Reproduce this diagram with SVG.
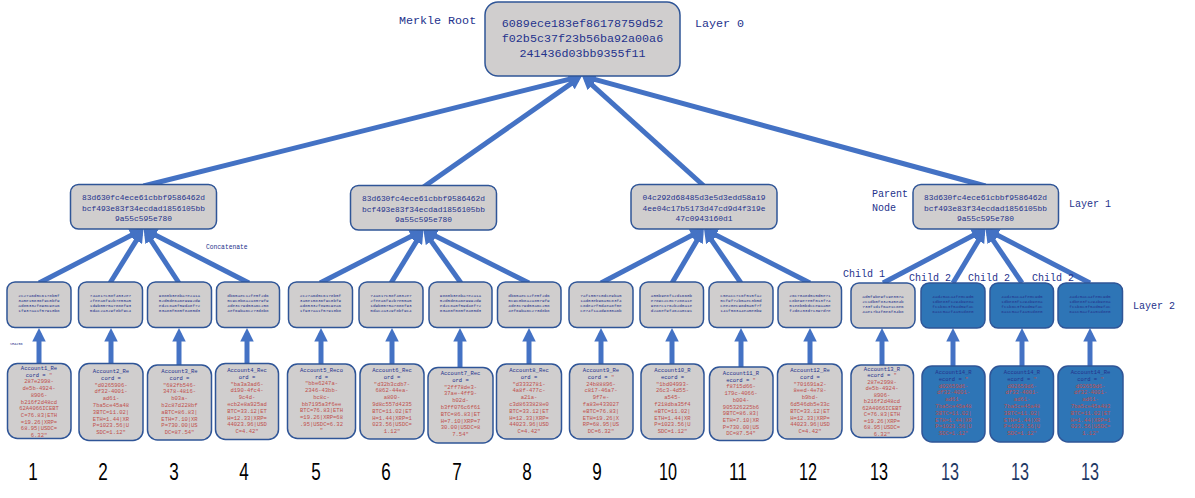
<svg xmlns="http://www.w3.org/2000/svg" width="1195" height="498" viewBox="0 0 1195 498">
<style>
.g{fill:#D0CECE;stroke:#2F5597;stroke-width:1.5}
.b{fill:#2E75B6;stroke:#2F5597;stroke-width:1.5}
.m{font-family:"Liberation Mono","DejaVu Sans Mono",monospace;fill:#24328C}
.root{font-size:11.7px;text-anchor:middle}
.l1{font-size:7.9px;text-anchor:middle}
.l2{font-size:4.3px;text-anchor:middle}
.lf{font-size:5.5px;text-anchor:middle}
.r{fill:#C0504D}
.lab{font-size:10px}
.num{font-family:"Liberation Sans",Arial,sans-serif;font-size:24px;text-anchor:middle;fill:#000}
.nb{fill:#1F3864}
.c{stroke:#4472C4;stroke-width:5;fill:none;marker-end:url(#ah)}
</style>
<defs>
<marker id="ah" viewBox="0 0 10 10" refX="6" refY="5" markerWidth="2.7" markerHeight="2.7" orient="auto" markerUnits="strokeWidth">
<path d="M0,0 L10,5 L0,10 z" fill="#4472C4"/>
</marker>
</defs>

<g id="connectors">
<line class="c" x1="143.5" y1="186" x2="576.7" y2="77.3"/>
<line class="c" x1="423.5" y1="187" x2="577.5" y2="79.1"/>
<line class="c" x1="704" y1="186" x2="586.1" y2="79.7"/>
<line class="c" x1="985.5" y1="186" x2="587.3" y2="77.4"/>

<line class="c" x1="39" y1="283" x2="138.6" y2="231.5"/>
<line class="c" x1="110" y1="283" x2="140.6" y2="233.6"/>
<line class="c" x1="179" y1="283" x2="146.6" y2="233.6"/>
<line class="c" x1="249" y1="283" x2="148.4" y2="231.5"/>

<line class="c" x1="320" y1="283" x2="418.6" y2="232.5"/>
<line class="c" x1="391" y1="283" x2="420.6" y2="234.6"/>
<line class="c" x1="461" y1="283" x2="426.6" y2="234.6"/>
<line class="c" x1="529" y1="283" x2="428.4" y2="232.5"/>

<line class="c" x1="601" y1="283" x2="699.1" y2="231.5"/>
<line class="c" x1="672" y1="283" x2="701.1" y2="233.6"/>
<line class="c" x1="741" y1="283" x2="707.1" y2="233.6"/>
<line class="c" x1="810" y1="283" x2="708.9" y2="231.5"/>

<line class="c" x1="883" y1="283" x2="980.6" y2="231.5"/>
<line class="c" x1="953" y1="283" x2="982.6" y2="233.6"/>
<line class="c" x1="1022" y1="283" x2="988.6" y2="233.6"/>
<line class="c" x1="1090" y1="283" x2="990.4" y2="231.5"/>

<line class="c" x1="39" y1="365" x2="39" y2="333.5"/>
<line class="c" x1="111" y1="365" x2="111" y2="333.5"/>
<line class="c" x1="179" y1="366" x2="179" y2="333.5"/>
<line class="c" x1="247" y1="365" x2="247" y2="333.5"/>
<line class="c" x1="321" y1="365" x2="321" y2="333.5"/>
<line class="c" x1="392" y1="365" x2="392" y2="333.5"/>
<line class="c" x1="460" y1="368" x2="460" y2="333.5"/>
<line class="c" x1="529" y1="365" x2="529" y2="333.5"/>
<line class="c" x1="601" y1="365" x2="601" y2="333.5"/>
<line class="c" x1="672" y1="365" x2="672" y2="333.5"/>
<line class="c" x1="741" y1="368" x2="741" y2="333.5"/>
<line class="c" x1="810" y1="365" x2="810" y2="333.5"/>
<line class="c" x1="882" y1="366" x2="882" y2="333.5"/>
<line class="c" x1="953" y1="366" x2="953" y2="333.5"/>
<line class="c" x1="1022" y1="366" x2="1022" y2="333.5"/>
<line class="c" x1="1090" y1="366" x2="1090" y2="333.5"/>
</g>

<g id="root">
<rect class="g" x="485" y="2" width="195" height="74" rx="13"/>
<text class="m root" x="582.5" y="27">6089ece183ef86178759d52</text>
<text class="m root" x="582.5" y="42">f02b5c37f23b56ba92a00a6</text>
<text class="m root" x="582.5" y="57">241436d03bb9355f11</text>
</g>

<g id="h1-1">
<rect class="g" x="70.5" y="184.5" width="146" height="44.5" rx="8"/>
<text class="m l1" x="143.5" y="200">83d630fc4ece61cbbf9586462d</text>
<text class="m l1" x="143.5" y="210.5">bcf493e83f34ecdad1856105bb</text>
<text class="m l1" x="143.5" y="221">9a55c595e780</text>
</g>
<g id="h1-2">
<rect class="g" x="350.5" y="185.5" width="146" height="44.5" rx="8"/>
<text class="m l1" x="423.5" y="201">83d630fc4ece61cbbf9586462d</text>
<text class="m l1" x="423.5" y="211.5">bcf493e83f34ecdad1856105bb</text>
<text class="m l1" x="423.5" y="222">9a55c595e780</text>
</g>
<g id="h1-3">
<rect class="g" x="631" y="184.5" width="146" height="44.5" rx="8"/>
<text class="m l1" x="704" y="200">04c292d68485d3e5d3edd58a19</text>
<text class="m l1" x="704" y="210.5">4ee04c17b5173d47cd9d4f319e</text>
<text class="m l1" x="704" y="221">47c0943160d1</text>
</g>
<g id="h1-4">
<rect class="g" x="913" y="184.5" width="145.5" height="44.5" rx="8"/>
<text class="m l1" x="985.5" y="200">83d630fc4ece61cbbf9586462d</text>
<text class="m l1" x="985.5" y="210.5">bcf493e83f34ecdad1856105bb</text>
<text class="m l1" x="985.5" y="221">9a55c595e780</text>
</g>

<g id="h2-1"><rect class="g" x="7" y="282" width="64" height="45.5" rx="8"/>
<text class="m l2" x="39" y="297">2c27a6d5c6178b5f</text><text class="m l2" x="39" y="302">3a5e15836f9c0bf9</text><text class="m l2" x="39" y="307">ad85332f890c9ea6</text><text class="m l2" x="39" y="312">1f937aa1f57910b8</text></g>
<g id="h2-2"><rect class="g" x="78.5" y="282" width="64" height="45.5" rx="8"/>
<text class="m l2" x="110.5" y="297">74a817c58f4032e7</text><text class="m l2" x="110.5" y="302">2feea6f92b7e55a5</text><text class="m l2" x="110.5" y="307">1d9b0575a7888f93</text><text class="m l2" x="110.5" y="312">5dac2a329f8bf9c4</text></g>
<g id="h2-3"><rect class="g" x="147.5" y="282" width="64" height="45.5" rx="8"/>
<text class="m l2" x="179.5" y="297">9880b3e8ba7e2a1a</text><text class="m l2" x="179.5" y="302">52d5de6a6e9992d9</text><text class="m l2" x="179.5" y="307">ed2c8a0f59d48f72</text><text class="m l2" x="179.5" y="312">03a80f085f8405d3</text></g>
<g id="h2-4"><rect class="g" x="216.5" y="282" width="63" height="45.5" rx="8"/>
<text class="m l2" x="248" y="297">db65aec12fe5f2d6</text><text class="m l2" x="248" y="302">5c9c0b8a2a8579f9</text><text class="m l2" x="248" y="307">4de3c79d53a6c258</text><text class="m l2" x="248" y="312">4ef69ba6c273d8b8</text></g>
<g id="h2-5"><rect class="g" x="288.5" y="282" width="64" height="45.5" rx="8"/>
<text class="m l2" x="320.5" y="297">2c27a6d5c6178b5f</text><text class="m l2" x="320.5" y="302">3a5e15836f9c0bf9</text><text class="m l2" x="320.5" y="307">ad85332f890c9ea6</text><text class="m l2" x="320.5" y="312">1f937aa1f57910b8</text></g>
<g id="h2-6"><rect class="g" x="359" y="282" width="64" height="45.5" rx="8"/>
<text class="m l2" x="391" y="297">74a817c58f4032e7</text><text class="m l2" x="391" y="302">2feea6f92b7e55a5</text><text class="m l2" x="391" y="307">1d9b0575a7888f93</text><text class="m l2" x="391" y="312">5dac2a329f8bf9c4</text></g>
<g id="h2-7"><rect class="g" x="429" y="282" width="63" height="45.5" rx="8"/>
<text class="m l2" x="460.5" y="297">9880b3e8ba7e2a1a</text><text class="m l2" x="460.5" y="302">52d5de6a6e9992d9</text><text class="m l2" x="460.5" y="307">ed2c8a0f59d48f72</text><text class="m l2" x="460.5" y="312">03a80f085f8405d3</text></g>
<g id="h2-8"><rect class="g" x="497.5" y="282" width="63.5" height="45.5" rx="8"/>
<text class="m l2" x="529" y="297">db65aec12fe5f2d6</text><text class="m l2" x="529" y="302">5c9c0b8a2a8579f9</text><text class="m l2" x="529" y="307">4de3c79d53a6c258</text><text class="m l2" x="529" y="312">4ef69ba6c273d8b8</text></g>
<g id="h2-9"><rect class="g" x="569" y="282" width="64" height="45.5" rx="8"/>
<text class="m l2" x="601" y="297">7af1557c0dce9ba5</text><text class="m l2" x="601" y="302">1ad03eb96a5c83f4</text><text class="m l2" x="601" y="307">c8dea7f5d4ea8f0e</text><text class="m l2" x="601" y="312">ce74f1a4d9830a6b</text></g>
<g id="h2-10"><rect class="g" x="640" y="282" width="63.5" height="45.5" rx="8"/>
<text class="m l2" x="671.5" y="297">a55b9e8f12d1660b</text><text class="m l2" x="671.5" y="302">e789c2c0c7288a1e</text><text class="m l2" x="671.5" y="307">9e87c1762b2d0a1e</text><text class="m l2" x="671.5" y="312">d2a6ef9f462a0c91</text></g>
<g id="h2-11"><rect class="g" x="709" y="282" width="64" height="45.5" rx="8"/>
<text class="m l2" x="741" y="297">c5eacc7c6f515fa2</text><text class="m l2" x="741" y="302">5cf9f72b5aec3b5d</text><text class="m l2" x="741" y="307">cee20ec98d5a5f7f</text><text class="m l2" x="741" y="312">141f583a4ea5e0b9</text></g>
<g id="h2-12"><rect class="g" x="778" y="282" width="63.5" height="45.5" rx="8"/>
<text class="m l2" x="810" y="297">26c7048d515d5e71</text><text class="m l2" x="810" y="302">c8be9e7e5f013f74</text><text class="m l2" x="810" y="307">51e8b0bdcce9aa5e</text><text class="m l2" x="810" y="312">f2d8233d71397d7e</text></g>
<g id="h2-13"><rect class="g" x="851" y="283" width="64" height="45" rx="8"/>
<text class="m l2" x="883" y="298">ad5f9be9f19e357a</text><text class="m l2" x="883" y="303">2c1db0f832545e4b</text><text class="m l2" x="883" y="308">733f1d1f6ae1c8e6</text><text class="m l2" x="883" y="313">4ae17b4f0e6f34b8</text></g>
<g id="h2-14a"><rect class="b" x="921" y="283" width="64" height="45" rx="8"/>
<text class="m l2" x="953" y="298">4ad25aca4fe0c9d5</text><text class="m l2" x="953" y="303">1dbe83f1294b9e8a</text><text class="m l2" x="953" y="308">fc1b6c3f54d59f4c</text><text class="m l2" x="953" y="313">6a1c5a2f4a51d8e0</text></g>
<g id="h2-14b"><rect class="b" x="990" y="283" width="63.5" height="45" rx="8"/>
<text class="m l2" x="1022" y="298">4ad25aca4fe0c9d5</text><text class="m l2" x="1022" y="303">1dbe83f1294b9e8a</text><text class="m l2" x="1022" y="308">fc1b6c3f54d59f4c</text><text class="m l2" x="1022" y="313">6a1c5a2f4a51d8e0</text></g>
<g id="h2-14c"><rect class="b" x="1058" y="283" width="64.5" height="45" rx="8"/>
<text class="m l2" x="1090" y="298">4ad25aca4fe0c9d5</text><text class="m l2" x="1090" y="303">1dbe83f1294b9e8a</text><text class="m l2" x="1090" y="308">fc1b6c3f54d59f4c</text><text class="m l2" x="1090" y="313">6a1c5a2f4a51d8e0</text></g>

<g id="leaf-1"><rect class="g" x="7.5" y="363.5" width="63.5" height="75" rx="10"/>
<text class="m lf" x="39" y="370"><tspan x="39">Account1_Re</tspan><tspan x="39" dy="6.7">cord = <tspan class="r">"</tspan></tspan><tspan class="r" x="39" dy="6.7">287e2998-</tspan><tspan class="r" x="39" dy="6.7">de5b-4924-</tspan><tspan class="r" x="39" dy="6.7">8906-</tspan><tspan class="r" x="39" dy="6.7">b216f2d48cd</tspan><tspan class="r" x="39" dy="6.7">62A4066ICEBT</tspan><tspan class="r" x="39" dy="6.7">C=76.83|ETH</tspan><tspan class="r" x="39" dy="6.7">=19.26|XRP=</tspan><tspan class="r" x="39" dy="6.7">68.95|USDC=</tspan><tspan class="r" x="39" dy="6.7">6.32"</tspan></text></g>
<g id="leaf-2"><rect class="g" x="79" y="363.5" width="64" height="77" rx="10"/>
<text class="m lf" x="111" y="373"><tspan x="111">Account2_Re</tspan><tspan x="111" dy="6.8">cord =</tspan><tspan class="r" x="111" dy="6.8">"d0265906-</tspan><tspan class="r" x="111" dy="6.8">df32-4001-</tspan><tspan class="r" x="111" dy="6.8">ad61-</tspan><tspan class="r" x="111" dy="6.8">7ba5ce45a48</tspan><tspan class="r" x="111" dy="6.8">3BTC=11.02|</tspan><tspan class="r" x="111" dy="6.8">ETH=1.44|XR</tspan><tspan class="r" x="111" dy="6.8">P=1023.56|U</tspan><tspan class="r" x="111" dy="6.8">SDC=1.12"</tspan></text></g>
<g id="leaf-3"><rect class="g" x="147.5" y="365" width="64" height="75" rx="10"/>
<text class="m lf" x="179.5" y="373"><tspan x="179.5">Account3_Re</tspan><tspan x="179.5" dy="6.8">cord =</tspan><tspan class="r" x="179.5" dy="6.8">"682fb546-</tspan><tspan class="r" x="179.5" dy="6.8">3478-4816-</tspan><tspan class="r" x="179.5" dy="6.8">b03a-</tspan><tspan class="r" x="179.5" dy="6.8">b2c87d228bf</tspan><tspan class="r" x="179.5" dy="6.8">aBTC=86.83|</tspan><tspan class="r" x="179.5" dy="6.8">ETH=7.10|XR</tspan><tspan class="r" x="179.5" dy="6.8">P=730.00|US</tspan><tspan class="r" x="179.5" dy="6.8">DC=87.54"</tspan></text></g>
<g id="leaf-4"><rect class="g" x="215.5" y="363.5" width="63" height="76" rx="10"/>
<text class="m lf" x="247" y="372"><tspan x="247">Account4_Rec</tspan><tspan x="247" dy="6.8">ord =</tspan><tspan class="r" x="247" dy="6.8">"ba3a3ad6-</tspan><tspan class="r" x="247" dy="6.8">d190-4fc4-</tspan><tspan class="r" x="247" dy="6.8">9c4d-</tspan><tspan class="r" x="247" dy="6.8">ecb2e8a925ad</tspan><tspan class="r" x="247" dy="6.8">BTC=33.12|ET</tspan><tspan class="r" x="247" dy="6.8">H=12.33|XRP=</tspan><tspan class="r" x="247" dy="6.8">44023.96|USD</tspan><tspan class="r" x="247" dy="6.8">C=4.42"</tspan></text></g>
<g id="leaf-5"><rect class="g" x="287.5" y="364" width="68" height="74.5" rx="10"/>
<text class="m lf" x="321.5" y="372"><tspan x="321.5">Account5_Reco</tspan><tspan x="321.5" dy="6.7">rd =</tspan><tspan class="r" x="321.5" dy="6.7">"bbe6247a-</tspan><tspan class="r" x="321.5" dy="6.7">2346-43bb-</tspan><tspan class="r" x="321.5" dy="6.7">bc8c-</tspan><tspan class="r" x="321.5" dy="6.7">bb7195a3f6ee</tspan><tspan class="r" x="321.5" dy="6.7">BTC=76.83|ETH</tspan><tspan class="r" x="321.5" dy="6.7">=19.26|XRP=68</tspan><tspan class="r" x="321.5" dy="6.7">.95|USDC=6.32</tspan><tspan class="r" x="321.5" dy="6.7">"</tspan></text></g>
<g id="leaf-6"><rect class="g" x="360" y="364" width="64" height="75" rx="10"/>
<text class="m lf" x="392" y="372"><tspan x="392">Account6_Rec</tspan><tspan x="392" dy="6.8">ord =</tspan><tspan class="r" x="392" dy="6.8">"d32b3cdb7-</tspan><tspan class="r" x="392" dy="6.8">6862-44ea-</tspan><tspan class="r" x="392" dy="6.8">a800-</tspan><tspan class="r" x="392" dy="6.8">9d8c557d4235</tspan><tspan class="r" x="392" dy="6.8">BTC=11.02|ET</tspan><tspan class="r" x="392" dy="6.8">H=1.44|XRP=1</tspan><tspan class="r" x="392" dy="6.8">023.56|USDC=</tspan><tspan class="r" x="392" dy="6.8">1.12"</tspan></text></g>
<g id="leaf-7"><rect class="g" x="428" y="367.5" width="65" height="75.5" rx="10"/>
<text class="m lf" x="460.5" y="375"><tspan x="460.5">Account7_Rec</tspan><tspan x="460.5" dy="6.8">ord =</tspan><tspan class="r" x="460.5" dy="6.8">"2ff78de3-</tspan><tspan class="r" x="460.5" dy="6.8">37ae-4ff9-</tspan><tspan class="r" x="460.5" dy="6.8">b02d-</tspan><tspan class="r" x="460.5" dy="6.8">b3ff076c6f61</tspan><tspan class="r" x="460.5" dy="6.8">BTC=86.83|ET</tspan><tspan class="r" x="460.5" dy="6.8">H=7.10|XRP=7</tspan><tspan class="r" x="460.5" dy="6.8">30.00|USDC=8</tspan><tspan class="r" x="460.5" dy="6.8">7.54"</tspan></text></g>
<g id="leaf-8"><rect class="g" x="496.5" y="364" width="65" height="75" rx="10"/>
<text class="m lf" x="529" y="372"><tspan x="529">Account8_Rec</tspan><tspan x="529" dy="6.8">ord =</tspan><tspan class="r" x="529" dy="6.8">"d3332781-</tspan><tspan class="r" x="529" dy="6.8">4a8f-477c-</tspan><tspan class="r" x="529" dy="6.8">a21a-</tspan><tspan class="r" x="529" dy="6.8">c3d8633828e0</tspan><tspan class="r" x="529" dy="6.8">BTC=33.12|ET</tspan><tspan class="r" x="529" dy="6.8">H=12.33|XRP=</tspan><tspan class="r" x="529" dy="6.8">44023.96|USD</tspan><tspan class="r" x="529" dy="6.8">C=4.42"</tspan></text></g>
<g id="leaf-9"><rect class="g" x="569.5" y="364" width="63.5" height="75" rx="10"/>
<text class="m lf" x="601" y="372"><tspan x="601">Account9_Re</tspan><tspan x="601" dy="6.8">cord = <tspan class="r">"</tspan></tspan><tspan class="r" x="601" dy="6.8">24b88896-</tspan><tspan class="r" x="601" dy="6.8">c817-46a7-</tspan><tspan class="r" x="601" dy="6.8">9f7e-</tspan><tspan class="r" x="601" dy="6.8">fa83e433027</tspan><tspan class="r" x="601" dy="6.8">eBTC=76.83|</tspan><tspan class="r" x="601" dy="6.8">ETH=19.26|X</tspan><tspan class="r" x="601" dy="6.8">RP=68.95|US</tspan><tspan class="r" x="601" dy="6.8">DC=6.32"</tspan></text></g>
<g id="leaf-10"><rect class="g" x="641" y="364" width="63" height="75" rx="10"/>
<text class="m lf" x="672.5" y="372"><tspan x="672.5">Account10_R</tspan><tspan x="672.5" dy="6.8">ecord =</tspan><tspan class="r" x="672.5" dy="6.8">"1bd04993-</tspan><tspan class="r" x="672.5" dy="6.8">26c3-4d55-</tspan><tspan class="r" x="672.5" dy="6.8">a545-</tspan><tspan class="r" x="672.5" dy="6.8">f218dba35f4</tspan><tspan class="r" x="672.5" dy="6.8">eBTC=11.02|</tspan><tspan class="r" x="672.5" dy="6.8">ETH=1.44|XR</tspan><tspan class="r" x="672.5" dy="6.8">P=1023.56|U</tspan><tspan class="r" x="672.5" dy="6.8">SDC=1.12"</tspan></text></g>
<g id="leaf-11"><rect class="g" x="709.5" y="367" width="63.5" height="73.5" rx="10"/>
<text class="m lf" x="741" y="375"><tspan x="741">Account11_R</tspan><tspan x="741" dy="6.7">ecord = <tspan class="r">"</tspan></tspan><tspan class="r" x="741" dy="6.7">f8715d66-</tspan><tspan class="r" x="741" dy="6.7">179c-4066-</tspan><tspan class="r" x="741" dy="6.7">b004-</tspan><tspan class="r" x="741" dy="6.7">905326225b6</tspan><tspan class="r" x="741" dy="6.7">9BTC=86.83|</tspan><tspan class="r" x="741" dy="6.7">ETH=7.10|XR</tspan><tspan class="r" x="741" dy="6.7">P=730.00|US</tspan><tspan class="r" x="741" dy="6.7">DC=87.54"</tspan></text></g>
<g id="leaf-12"><rect class="g" x="777.5" y="364" width="64.5" height="75" rx="10"/>
<text class="m lf" x="810" y="372"><tspan x="810">Account12_Re</tspan><tspan x="810" dy="6.8">cord =</tspan><tspan class="r" x="810" dy="6.8">"701691a2-</tspan><tspan class="r" x="810" dy="6.8">8eed-4e78-</tspan><tspan class="r" x="810" dy="6.8">b9bd-</tspan><tspan class="r" x="810" dy="6.8">6d546db5e33c</tspan><tspan class="r" x="810" dy="6.8">BTC=33.12|ET</tspan><tspan class="r" x="810" dy="6.8">H=12.33|XRP=</tspan><tspan class="r" x="810" dy="6.8">44023.96|USD</tspan><tspan class="r" x="810" dy="6.8">C=4.42"</tspan></text></g>
<g id="leaf-13"><rect class="g" x="851" y="365" width="62.5" height="72.5" rx="10"/>
<text class="m lf" x="882" y="370.5"><tspan x="882">Account13_R</tspan><tspan x="882" dy="6.5">ecord = <tspan class="r">"</tspan></tspan><tspan class="r" x="882" dy="6.5">287e2998-</tspan><tspan class="r" x="882" dy="6.5">de5b-4924-</tspan><tspan class="r" x="882" dy="6.5">8906-</tspan><tspan class="r" x="882" dy="6.5">b216f2d48cd</tspan><tspan class="r" x="882" dy="6.5">62A4066ICEBT</tspan><tspan class="r" x="882" dy="6.5">C=76.83|ETH</tspan><tspan class="r" x="882" dy="6.5">=19.26|XRP=</tspan><tspan class="r" x="882" dy="6.5">68.95|USDC=</tspan><tspan class="r" x="882" dy="6.5">6.32"</tspan></text></g>
<g id="leaf-14a"><rect class="b" x="922" y="366" width="63" height="76" rx="10"/>
<text class="m lf" x="953.5" y="374"><tspan x="953.5">Account14_R</tspan><tspan x="953.5" dy="6.8">ecord = <tspan class="r">"</tspan></tspan><tspan class="r" x="953.5" dy="6.8">d02659d6-</tspan><tspan class="r" x="953.5" dy="6.8">df32-4001-</tspan><tspan class="r" x="953.5" dy="6.8">ad61-</tspan><tspan class="r" x="953.5" dy="6.8">7ba5ce45a48</tspan><tspan class="r" x="953.5" dy="6.8">3BTC=11.02|</tspan><tspan class="r" x="953.5" dy="6.8">ETH=1.44|XR</tspan><tspan class="r" x="953.5" dy="6.8">P=1023.56|U</tspan><tspan class="r" x="953.5" dy="6.8">SDC=1.12"</tspan></text></g>
<g id="leaf-14b"><rect class="b" x="990" y="366" width="63.5" height="76" rx="10"/>
<text class="m lf" x="1022" y="374"><tspan x="1022">Account14_R</tspan><tspan x="1022" dy="6.8">ecord = <tspan class="r">"</tspan></tspan><tspan class="r" x="1022" dy="6.8">d02659d6-</tspan><tspan class="r" x="1022" dy="6.8">df32-4001-</tspan><tspan class="r" x="1022" dy="6.8">ad61-</tspan><tspan class="r" x="1022" dy="6.8">7ba5ce45a48</tspan><tspan class="r" x="1022" dy="6.8">3BTC=11.02|</tspan><tspan class="r" x="1022" dy="6.8">ETH=1.44|XR</tspan><tspan class="r" x="1022" dy="6.8">P=1023.56|U</tspan><tspan class="r" x="1022" dy="6.8">SDC=1.12"</tspan></text></g>
<g id="leaf-14c"><rect class="b" x="1058" y="366" width="65" height="76" rx="10"/>
<text class="m lf" x="1090.5" y="374"><tspan x="1090.5">Account14_Re</tspan><tspan x="1090.5" dy="6.8">cord = <tspan class="r">"</tspan></tspan><tspan class="r" x="1090.5" dy="6.8">d02659d6-</tspan><tspan class="r" x="1090.5" dy="6.8">df32-4001-</tspan><tspan class="r" x="1090.5" dy="6.8">ad61-</tspan><tspan class="r" x="1090.5" dy="6.8">7ba5ce45a483</tspan><tspan class="r" x="1090.5" dy="6.8">BTC=11.02|ET</tspan><tspan class="r" x="1090.5" dy="6.8">H=1.44|XRP=1</tspan><tspan class="r" x="1090.5" dy="6.8">023.56|USDC=</tspan><tspan class="r" x="1090.5" dy="6.8">1.12"</tspan></text></g>

<g id="labels">
<text class="m" x="399" y="24" font-size="11.7">Merkle Root</text>
<text class="m" x="695" y="27" font-size="11.7">Layer 0</text>
<text class="m lab" x="872" y="197">Parent</text>
<text class="m lab" x="872" y="211">Node</text>
<text class="m lab" x="1069" y="207">Layer 1</text>
<text class="m" x="206" y="249" font-size="6.3">Concatenate</text>
<text class="m" x="10" y="344.5" font-size="3.5">SHA256</text>
<text class="m lab" x="843" y="277">Child 1</text>
<text class="m lab" x="909" y="281">Child 2</text>
<text class="m lab" x="968" y="281">Child 2</text>
<text class="m lab" x="1032" y="281">Child 2</text>
<text class="m lab" x="1133" y="309">Layer 2</text>
</g>

<g id="numbers">
<text class="num" x="33" y="480" textLength="9.5" lengthAdjust="spacingAndGlyphs">1</text>
<text class="num" x="103" y="480" textLength="9.5" lengthAdjust="spacingAndGlyphs">2</text>
<text class="num" x="174" y="480" textLength="9.5" lengthAdjust="spacingAndGlyphs">3</text>
<text class="num" x="244" y="480" textLength="9.5" lengthAdjust="spacingAndGlyphs">4</text>
<text class="num" x="316" y="480" textLength="9.5" lengthAdjust="spacingAndGlyphs">5</text>
<text class="num" x="386" y="480" textLength="9.5" lengthAdjust="spacingAndGlyphs">6</text>
<text class="num" x="457" y="480" textLength="9.5" lengthAdjust="spacingAndGlyphs">7</text>
<text class="num" x="527" y="480" textLength="9.5" lengthAdjust="spacingAndGlyphs">8</text>
<text class="num" x="597" y="480" textLength="9.5" lengthAdjust="spacingAndGlyphs">9</text>
<text class="num" x="668" y="480" textLength="18" lengthAdjust="spacingAndGlyphs">10</text>
<text class="num" x="738" y="480" textLength="18" lengthAdjust="spacingAndGlyphs">11</text>
<text class="num" x="808" y="480" textLength="18" lengthAdjust="spacingAndGlyphs">12</text>
<text class="num" x="879" y="480" textLength="18" lengthAdjust="spacingAndGlyphs">13</text>
<text class="num nb" x="950" y="480" textLength="18" lengthAdjust="spacingAndGlyphs">13</text>
<text class="num nb" x="1020" y="480" textLength="18" lengthAdjust="spacingAndGlyphs">13</text>
<text class="num nb" x="1090" y="480" textLength="18" lengthAdjust="spacingAndGlyphs">13</text>
</g>
</svg>
